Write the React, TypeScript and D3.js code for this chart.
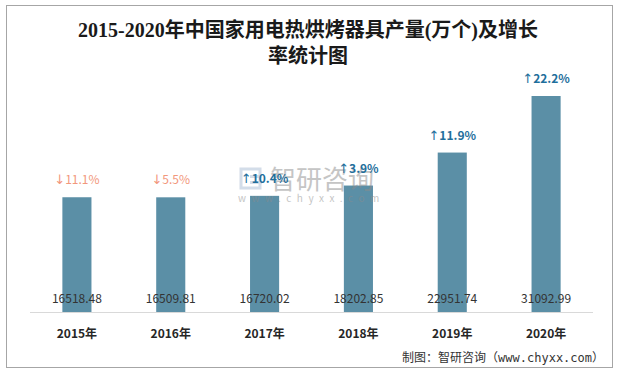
import React, { useEffect, useRef } from 'react';
import * as d3 from 'd3';

const years = ['2015年', '2016年', '2017年', '2018年', '2019年', '2020年'];
const output = [16518.48, 16509.81, 16720.02, 18202.85, 22951.74, 31092.99];
const growth = [-11.1, -5.5, 10.4, 3.9, 11.9, 22.2];

const W = 617;
const H = 372;

const App: React.FC = () => {
  const svgRef = useRef<SVGSVGElement>(null);

  useEffect(() => {
    if (!svgRef.current) return;
    const svg = d3.select(svgRef.current);
    svg.selectAll('*').remove();

    const cjk = '"Noto Sans CJK SC", "Noto Sans", sans-serif';
    const margin = { left: 30, right: 24, top: 96, bottom: 60 };
    const baseline = 312;

    // outer frame
    svg.append('rect')
      .attr('x', 6.5).attr('y', 5.5)
      .attr('width', 606).attr('height', 362)
      .attr('fill', '#fff')
      .attr('stroke', '#a6a6a6');

    // title
    const title = svg.append('text')
      .attr('text-anchor', 'middle')
      .style('font-family', '"Liberation Serif", "Noto Sans CJK SC", serif')
      .style('font-size', '20px')
      .style('font-weight', '700')
      .attr('fill', '#1a1a1a');
    title.append('tspan').attr('x', 308).attr('y', 37)
      .text('2015-2020年中国家用电热烘烤器具产量(万个)及增长');
    title.append('tspan').attr('x', 308).attr('y', 63).text('率统计图');

    const x = d3.scaleBand<string>()
      .domain(years)
      .range([margin.left, W - margin.right])
      .paddingInner(0.69)
      .paddingOuter(0.345);

    const y = d3.scaleLinear()
      .domain([0, d3.max(output) || 0])
      .range([baseline, margin.top]);

    // bars
    svg.selectAll('rect.bar')
      .data(output)
      .enter()
      .append('rect')
      .attr('class', 'bar')
      .attr('x', (_, i) => x(years[i])!)
      .attr('y', d => y(d))
      .attr('width', x.bandwidth())
      .attr('height', d => baseline - y(d))
      .attr('fill', '#5b8fa6');

    // watermark (drawn over the bars, semi transparent)
    const wm = svg.append('g').attr('opacity', 0.5);
    wm.append('rect').attr('x', 241).attr('y', 169).attr('width', 19).attr('height', 19)
      .attr('fill', 'none').attr('stroke', '#a9bcd4').attr('stroke-width', 3);
    wm.append('rect').attr('x', 250).attr('y', 175).attr('width', 12).attr('height', 3)
      .attr('fill', '#a9bcd4');
    wm.append('rect').attr('x', 250).attr('y', 181).attr('width', 12).attr('height', 3)
      .attr('fill', '#a9bcd4');
    wm.append('text').attr('x', 270).attr('y', 189)
      .style('font-family', cjk).style('font-size', '26px')
      .attr('fill', '#8c8c8c').text('智研咨询');
    wm.append('text').attr('x', 238).attr('y', 202)
      .style('font-family', cjk).style('font-size', '10px')
      .style('letter-spacing', '5.5px')
      .attr('fill', '#8c8c8c').text('www.chyxx.com');

    // axis line
    svg.append('line')
      .attr('x1', margin.left).attr('x2', W - margin.right)
      .attr('y1', baseline + 0.5).attr('y2', baseline + 0.5)
      .attr('stroke', '#d9d9d9');

    // value labels
    svg.selectAll('text.val')
      .data(output)
      .enter()
      .append('text')
      .attr('class', 'val')
      .attr('x', (_, i) => x(years[i])! + x.bandwidth() / 2)
      .attr('y', baseline - 9)
      .attr('text-anchor', 'middle')
      .style('font-family', cjk)
      .style('font-size', '12px')
      .attr('fill', '#333')
      .text(d => d.toFixed(2));

    // growth labels
    const gr = svg.selectAll('text.gr')
      .data(growth)
      .enter()
      .append('text')
      .attr('class', 'gr')
      .attr('x', (_, i) => x(years[i])! + x.bandwidth() / 2)
      .attr('y', (_, i) => y(output[i]) - 13)
      .attr('text-anchor', 'middle')
      .style('font-family', cjk)
      .style('font-size', '12px')
      .style('font-weight', d => (d < 0 ? '400' : '600'))
      .attr('fill', d => (d < 0 ? '#f2977c' : '#1f6f9c'));
    gr.append('tspan')
      .style('font-family', '"DejaVu Sans", sans-serif')
      .style('font-weight', '400')
      .style('font-size', '13px')
      .text(d => (d < 0 ? '↓' : '↑'));
    gr.append('tspan').text(d => Math.abs(d).toFixed(1) + '%');

    // year labels
    svg.selectAll('text.yr')
      .data(years)
      .enter()
      .append('text')
      .attr('class', 'yr')
      .attr('x', d => x(d)! + x.bandwidth() / 2)
      .attr('y', 338)
      .attr('text-anchor', 'middle')
      .style('font-family', cjk)
      .style('font-size', '12px')
      .style('font-weight', '700')
      .attr('fill', '#262626')
      .text(d => d);

    // source
    svg.append('text')
      .attr('x', 604).attr('y', 362)
      .attr('text-anchor', 'end')
      .style('font-family', '"DejaVu Sans Mono", "Noto Sans CJK SC", monospace')
      .style('font-size', '12px')
      .attr('fill', '#333')
      .text('制图：智研咨询（www.chyxx.com）');
  }, []);

  return (
    <div style={{ position: 'absolute', left: 0, top: 0 }}>
      <svg ref={svgRef} width={W} height={H} style={{ display: 'block' }} />
    </div>
  );
};

export default App;
